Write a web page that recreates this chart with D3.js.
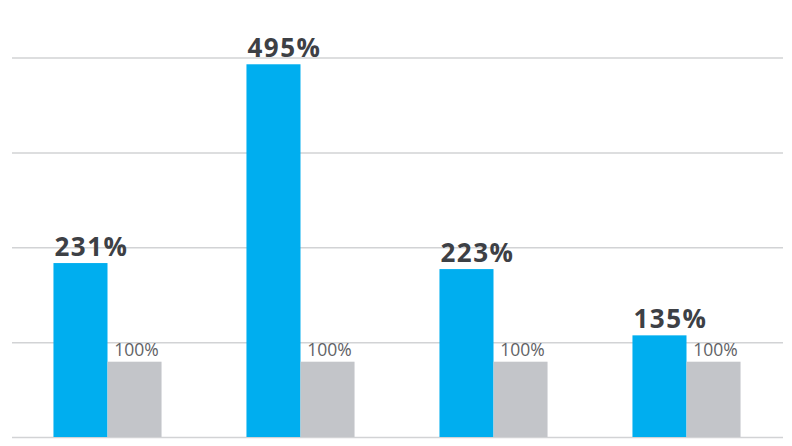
<!DOCTYPE html>
<html><head><meta charset="utf-8">
<script src="https://cdn.jsdelivr.net/npm/d3@7"></script>
<style>html,body{margin:0;padding:0;background:#fff;}svg{display:block;}</style>
</head><body>
<svg id="chart" width="792" height="446"></svg>
<script>
const categories = ["A", "B", "C", "D"];
const seriesKeys = ["value", "baseline"];
const values = [231, 495, 223, 135];
const baseline = [100, 100, 100, 100];
const gridValues = [0, 126, 252, 378, 504];

const svg = d3.select("#chart");
const x0 = d3.scaleBand().domain(categories).range([11, 783]).paddingInner(0.44).paddingOuter(0.22);
const x1 = d3.scaleBand().domain(seriesKeys).range([0, x0.bandwidth()]).padding(0);
const y = d3.scaleLinear().domain([0, 504]).range([437, 57.5]);

const colors = {value: "#00AEEF", baseline: "#C3C5C9"};

// grid
const yAxis = d3.axisLeft(y).tickValues(gridValues).tickSize(-(783 - 12)).tickFormat("");
const g = svg.append("g").attr("transform", "translate(12,0)").call(yAxis);
g.select(".domain").remove();
g.selectAll(".tick line").attr("stroke", "#D2D3D5").attr("stroke-width", 1.5);

const rows = categories.map((c, i) => ({cat: c, value: values[i], baseline: baseline[i]}));

const groups = svg.selectAll("g.grp").data(rows).enter().append("g")
  .attr("class", "grp").attr("transform", d => `translate(${x0(d.cat)},0)`);

groups.selectAll("rect").data(d => seriesKeys.map(k => ({key: k, v: d[k]}))).enter()
  .append("rect")
  .attr("x", d => x1(d.key))
  .attr("width", x1.bandwidth())
  .attr("y", d => y(d.v))
  .attr("height", d => y(0) - y(d.v))
  .attr("fill", d => colors[d.key]);

groups.append("text")
  .attr("x", d => x1("value") + 1)
  .attr("y", d => y(d.value) - 7)
  .attr("font-family", "'Open Sans', sans-serif")
  .attr("font-weight", 700)
  .attr("font-size", 26)
  .attr("letter-spacing", 1.5)
  .attr("fill", "#3D4045")
  .text(d => d.value + "%");

groups.append("text")
  .attr("x", d => x1("baseline") + x1.bandwidth() / 2 + 2)
  .attr("y", d => y(d.baseline) - 5.5)
  .attr("text-anchor", "middle")
  .attr("font-family", "'Open Sans', sans-serif")
  .attr("font-weight", 400)
  .attr("font-size", 17.5)
  .attr("letter-spacing", 0)
  .attr("fill", "#5F6266")
  .text(d => d.baseline + "%");
</script>
</body></html>
